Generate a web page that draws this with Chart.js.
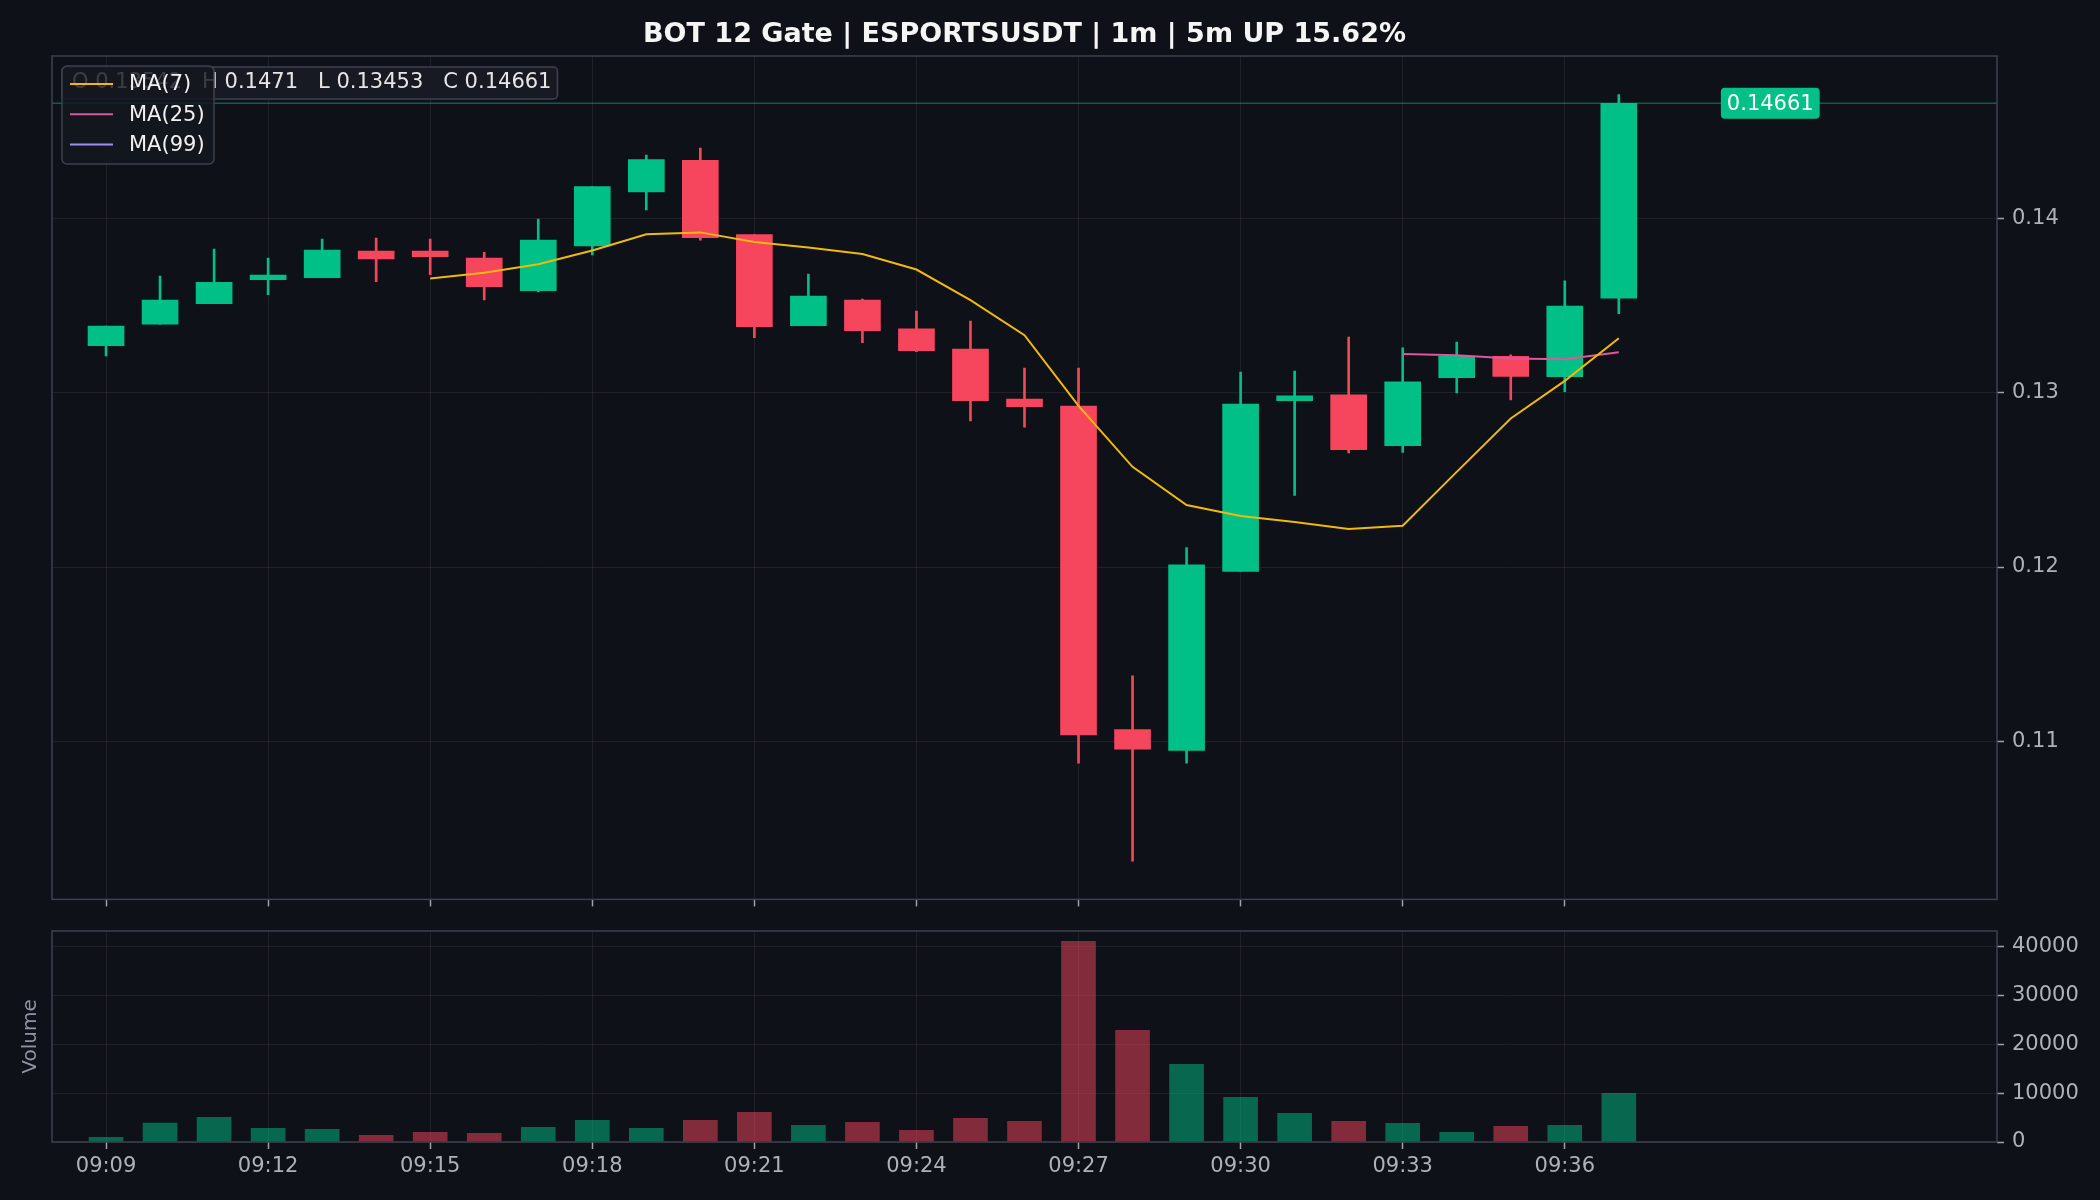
<!DOCTYPE html>
<html>
<head>
<meta charset="utf-8">
<title>BOT 12 Gate | ESPORTSUSDT</title>
<script src="https://cdn.jsdelivr.net/npm/chart.js@4.4.1/dist/chart.umd.min.js"></script>
<style>
  html, body { margin: 0; padding: 0; background: #0e1117; }
  #wrap { position: relative; width: 2100px; height: 1200px; background: #0e1117; overflow: hidden; }
  .box { position: absolute; left: 0; width: 2100px; }
  #priceBox { top: 0; height: 920px; }
  #volBox { top: 880px; height: 320px; }
</style>
</head>
<body>
<div id="wrap">
  <div class="box" id="priceBox"><canvas id="priceChart"></canvas></div>
  <div class="box" id="volBox"><canvas id="volChart"></canvas></div>
</div>
<script>
// ESPORTSUSDT 1m candles
const chartTitle = 'BOT 12 Gate | ESPORTSUSDT | 1m | 5m UP 15.62%';

const times = ['09:09', '09:10', '09:11', '09:12', '09:13', '09:14', '09:15', '09:16', '09:17', '09:18',
               '09:19', '09:20', '09:21', '09:22', '09:23', '09:24', '09:25', '09:26', '09:27', '09:28',
               '09:29', '09:30', '09:31', '09:32', '09:33', '09:34', '09:35', '09:36', '09:37'];

const opens  = [0.13270, 0.13393, 0.13511, 0.13648, 0.13660, 0.13813, 0.13813, 0.13772, 0.13585, 0.13843,
                0.14152, 0.14334, 0.13908, 0.13385, 0.13532, 0.13366, 0.13251, 0.12964, 0.12924, 0.11067,
                0.10948, 0.11975, 0.12955, 0.12988, 0.12696, 0.13087, 0.13209, 0.13092, 0.13542];
const highs  = [0.13383, 0.13669, 0.13824, 0.13772, 0.13881, 0.13887, 0.13881, 0.13805, 0.13996, 0.14183,
                0.14363, 0.14403, 0.13908, 0.13681, 0.13538, 0.13469, 0.13411, 0.13142, 0.13142, 0.11376,
                0.12111, 0.13119, 0.13124, 0.13319, 0.13258, 0.13291, 0.13218, 0.13642, 0.1471];
const lows   = [0.13211, 0.13393, 0.13511, 0.13562, 0.13660, 0.13637, 0.13677, 0.13532, 0.13579, 0.13791,
                0.14049, 0.13876, 0.13316, 0.13385, 0.13287, 0.13236, 0.12838, 0.12802, 0.10874, 0.10312,
                0.10874, 0.11975, 0.12411, 0.12654, 0.12657, 0.12999, 0.12959, 0.13006, 0.13453];
const closes = [0.13383, 0.13532, 0.13633, 0.13675, 0.13818, 0.13768, 0.13780, 0.13608, 0.13876, 0.14183,
                0.14338, 0.13889, 0.13379, 0.13555, 0.13356, 0.13241, 0.12955, 0.12920, 0.11036, 0.10955,
                0.12012, 0.12935, 0.12982, 0.12674, 0.13062, 0.13209, 0.13093, 0.13497, 0.14661];
const volumes = [950, 3890, 5040, 2800, 2590, 1360, 1980, 1770, 3000, 4430,
                 2800, 4430, 6070, 3410, 4020, 2390, 4840, 4230, 41040, 22840,
                 15880, 9130, 5860, 4230, 3820, 1980, 3200, 3410, 9950];

const ma7  = [null, null, null, null, null, null, 0.13655, 0.13689, 0.13737, 0.13816,
              0.13909, 0.13920, 0.13865, 0.13833, 0.13796, 0.13707, 0.13531, 0.13330, 0.12925, 0.12575,
              0.12356, 0.12293, 0.12258, 0.12218, 0.12237, 0.12546, 0.12852, 0.13068, 0.13313];
const ma25 = [null, null, null, null, null, null, null, null, null, null,
              null, null, null, null, null, null, null, null, null, null,
              null, null, null, null, 0.13222, 0.13215, 0.13197, 0.13192, 0.13232];
const ma99 = [];

const priceTicks = [0.11, 0.12, 0.13, 0.14];
const volumeTicks = [0, 10000, 20000, 30000, 40000];
const timeTicks = ['09:09', '09:12', '09:15', '09:18', '09:21', '09:24', '09:27', '09:30', '09:33', '09:36'];

const priceRange = [0.10093, 0.14932];
const volumeMax = 43150;
const xRange = [-1, 35];

const UP = '#00c087';
const DOWN = '#f6465d';
const UP_VOL = 'rgba(0,192,135,0.5)';
const DOWN_VOL = 'rgba(246,70,93,0.5)';
const GRID = 'rgba(255,255,255,0.07)';
const FRAME = '#3e424c';
const TICK = '#9ea2aa';
const LABEL = '#aeb1b7';
const FONT = 'DejaVu Sans';

Chart.defaults.font.family = FONT;
Chart.defaults.font.size = 21;
Chart.defaults.color = LABEL;

let last = closes.length - 1;
let isUp = closes.map((c, i) => c >= opens[i]);

function toPoints(arr) {
    let pts = [];
    for (let i = 0; i < arr.length; i++) {
        if (arr[i] !== null && arr[i] !== undefined) pts.push({x: i, y: arr[i]});
    }
    return pts;
}

function timeAxis(showLabels, height) {
    return {
        type: 'linear',
        min: xRange[0],
        max: xRange[1],
        bounds: 'data',
        offset: false,
        z: 1,
        grid: {color: GRID, offset: false, drawTicks: true, tickLength: 7, tickColor: TICK, tickWidth: 1.5},
        border: {display: false},
        afterBuildTicks: (s) => { s.ticks = timeTicks.map(t => ({value: times.indexOf(t)})); },
        afterFit: (s) => { s.height = height; },
        ticks: {
            display: showLabels,
            color: LABEL,
            padding: 5,
            maxRotation: 0,
            autoSkip: false,
            callback: (v) => times[v]
        }
    };
}

function roundBox(ctx, x, y, w, h, r, fill, stroke) {
    ctx.beginPath();
    ctx.roundRect(x, y, w, h, r);
    if (fill) { ctx.fillStyle = fill; ctx.fill(); }
    if (stroke) { ctx.strokeStyle = stroke; ctx.lineWidth = 1.5; ctx.stroke(); }
}

// title, frame, last price line + tag, OHLC box and the MA legend
const priceDecor = {
    id: 'priceDecor',
    afterDatasetsDraw(chart) {
        let {ctx, chartArea: a, scales} = chart;
        let y = scales.y.getPixelForValue(closes[last]);
        ctx.save();
        ctx.strokeStyle = 'rgba(0,192,135,0.45)';
        ctx.lineWidth = 1.5;
        ctx.beginPath();
        ctx.moveTo(a.left, y);
        ctx.lineTo(a.right, y);
        ctx.stroke();
        ctx.restore();
    },
    afterDraw(chart) {
        let {ctx, chartArea: a, scales} = chart;
        ctx.save();

        ctx.strokeStyle = FRAME;
        ctx.lineWidth = 1.5;
        ctx.strokeRect(a.left, a.top, a.right - a.left, a.bottom - a.top);

        ctx.fillStyle = '#f5f5f5';
        ctx.font = 'bold 27px ' + FONT;
        ctx.textAlign = 'center';
        ctx.textBaseline = 'middle';
        ctx.fillText(chartTitle, (a.left + a.right) / 2, 35);

        // last price tag
        let tag = closes[last].toFixed(5);
        ctx.font = '21px ' + FONT;
        let ty = scales.y.getPixelForValue(closes[last]);
        let tx = scales.x.getPixelForValue(last + 2);
        let tw = ctx.measureText(tag).width;
        roundBox(ctx, tx - 6, ty - 15.5, tw + 12, 31, 4, UP, null);
        ctx.fillStyle = '#ffffff';
        ctx.textAlign = 'left';
        ctx.fillText(tag, tx, ty + 1);

        // OHLC box of the last candle
        let ohlc = 'O ' + opens[last] + '   H ' + highs[last] + '   L ' + lows[last] + '   C ' + closes[last];
        let ow = ctx.measureText(ohlc).width;
        roundBox(ctx, a.left + 10, a.top + 11, ow + 16, 32, 4, 'rgba(24,28,36,0.9)', FRAME);
        ctx.fillStyle = '#e6e6e6';
        ctx.fillText(ohlc, a.left + 20, a.top + 27);

        // legend of the moving averages
        let lines = chart.data.datasets.filter(d => d.type === 'line');
        roundBox(ctx, a.left + 10, a.top + 10, 152, 98, 5, 'rgba(20,23,30,0.82)', FRAME);
        lines.forEach((d, i) => {
            let ly = a.top + 28 + i * 30.3;
            ctx.strokeStyle = d.borderColor;
            ctx.lineWidth = 2;
            ctx.beginPath();
            ctx.moveTo(a.left + 18, ly);
            ctx.lineTo(a.left + 61, ly);
            ctx.stroke();
            ctx.fillStyle = '#f0f0f0';
            ctx.fillText(d.label, a.left + 77, ly + 1);
        });
        ctx.restore();
    }
};

const volDecor = {
    id: 'volDecor',
    afterDraw(chart) {
        let {ctx, chartArea: a} = chart;
        ctx.save();
        ctx.strokeStyle = FRAME;
        ctx.lineWidth = 1.5;
        ctx.strokeRect(a.left, a.top, a.right - a.left, a.bottom - a.top);
        ctx.translate(31, (a.top + a.bottom) / 2);
        ctx.rotate(-Math.PI / 2);
        ctx.fillStyle = '#8f939b';
        ctx.font = '20px ' + FONT;
        ctx.textAlign = 'center';
        ctx.textBaseline = 'middle';
        ctx.fillText('Volume', 0, 0);
        ctx.restore();
    }
};

let priceChart = new Chart(document.getElementById('priceChart'), {
    type: 'bar',
    data: {
        datasets: [
            {type: 'line', label: 'MA(7)', data: toPoints(ma7), borderColor: '#f0b90b', borderWidth: 2,
             pointRadius: 0, tension: 0, order: 0},
            {type: 'line', label: 'MA(25)', data: toPoints(ma25), borderColor: '#e0569c', borderWidth: 2,
             pointRadius: 0, tension: 0, order: 0},
            {type: 'line', label: 'MA(99)', data: toPoints(ma99), borderColor: '#9d90f0', borderWidth: 2,
             pointRadius: 0, tension: 0, order: 0},
            {type: 'bar', label: 'body', data: times.map((t, i) => ({x: i, y: [opens[i], closes[i]]})),
             backgroundColor: isUp.map(u => u ? UP : DOWN), barThickness: 36, grouped: false, order: 2},
            {type: 'bar', label: 'wick', data: times.map((t, i) => ({x: i, y: [lows[i], highs[i]]})),
             backgroundColor: isUp.map(u => u ? UP : DOWN), barThickness: 2, grouped: false, order: 3}
        ]
    },
    options: {
        responsive: true,
        maintainAspectRatio: false,
        animation: false,
        devicePixelRatio: 1,
        events: [],
        layout: {padding: {top: 56, left: 52, right: 0, bottom: 0}},
        plugins: {legend: {display: false}, tooltip: {enabled: false}},
        scales: {
            x: timeAxis(false, 20),
            y: {
                type: 'linear',
                position: 'right',
                min: priceRange[0],
                max: priceRange[1],
                bounds: 'data',
                z: 1,
                grid: {color: GRID, drawTicks: true, tickLength: 7, tickColor: TICK, tickWidth: 1.5},
                border: {display: false},
                afterBuildTicks: (s) => { s.ticks = priceTicks.map(v => ({value: v})); },
                afterFit: (s) => { s.width = 103; },
                ticks: {color: LABEL, padding: 8, callback: (v) => v.toFixed(2)}
            }
        }
    },
    plugins: [priceDecor]
});

let volChart = new Chart(document.getElementById('volChart'), {
    type: 'bar',
    data: {
        datasets: [
            {label: 'Volume', data: times.map((t, i) => ({x: i, y: volumes[i]})),
             backgroundColor: isUp.map(u => u ? UP_VOL : DOWN_VOL), barThickness: 34, grouped: false}
        ]
    },
    options: {
        responsive: true,
        maintainAspectRatio: false,
        animation: false,
        devicePixelRatio: 1,
        events: [],
        layout: {padding: {top: 51, left: 52, right: 0, bottom: 0}},
        plugins: {legend: {display: false}, tooltip: {enabled: false}},
        scales: {
            x: timeAxis(true, 58),
            y: {
                type: 'linear',
                position: 'right',
                min: 0,
                max: volumeMax,
                bounds: 'data',
                z: 1,
                grid: {color: GRID, drawTicks: true, tickLength: 7, tickColor: TICK, tickWidth: 1.5},
                border: {display: false},
                afterBuildTicks: (s) => { s.ticks = volumeTicks.map(v => ({value: v})); },
                afterFit: (s) => { s.width = 103; },
                ticks: {color: LABEL, padding: 8, callback: (v) => String(v)}
            }
        }
    },
    plugins: [volDecor]
});
</script>
</body>
</html>
